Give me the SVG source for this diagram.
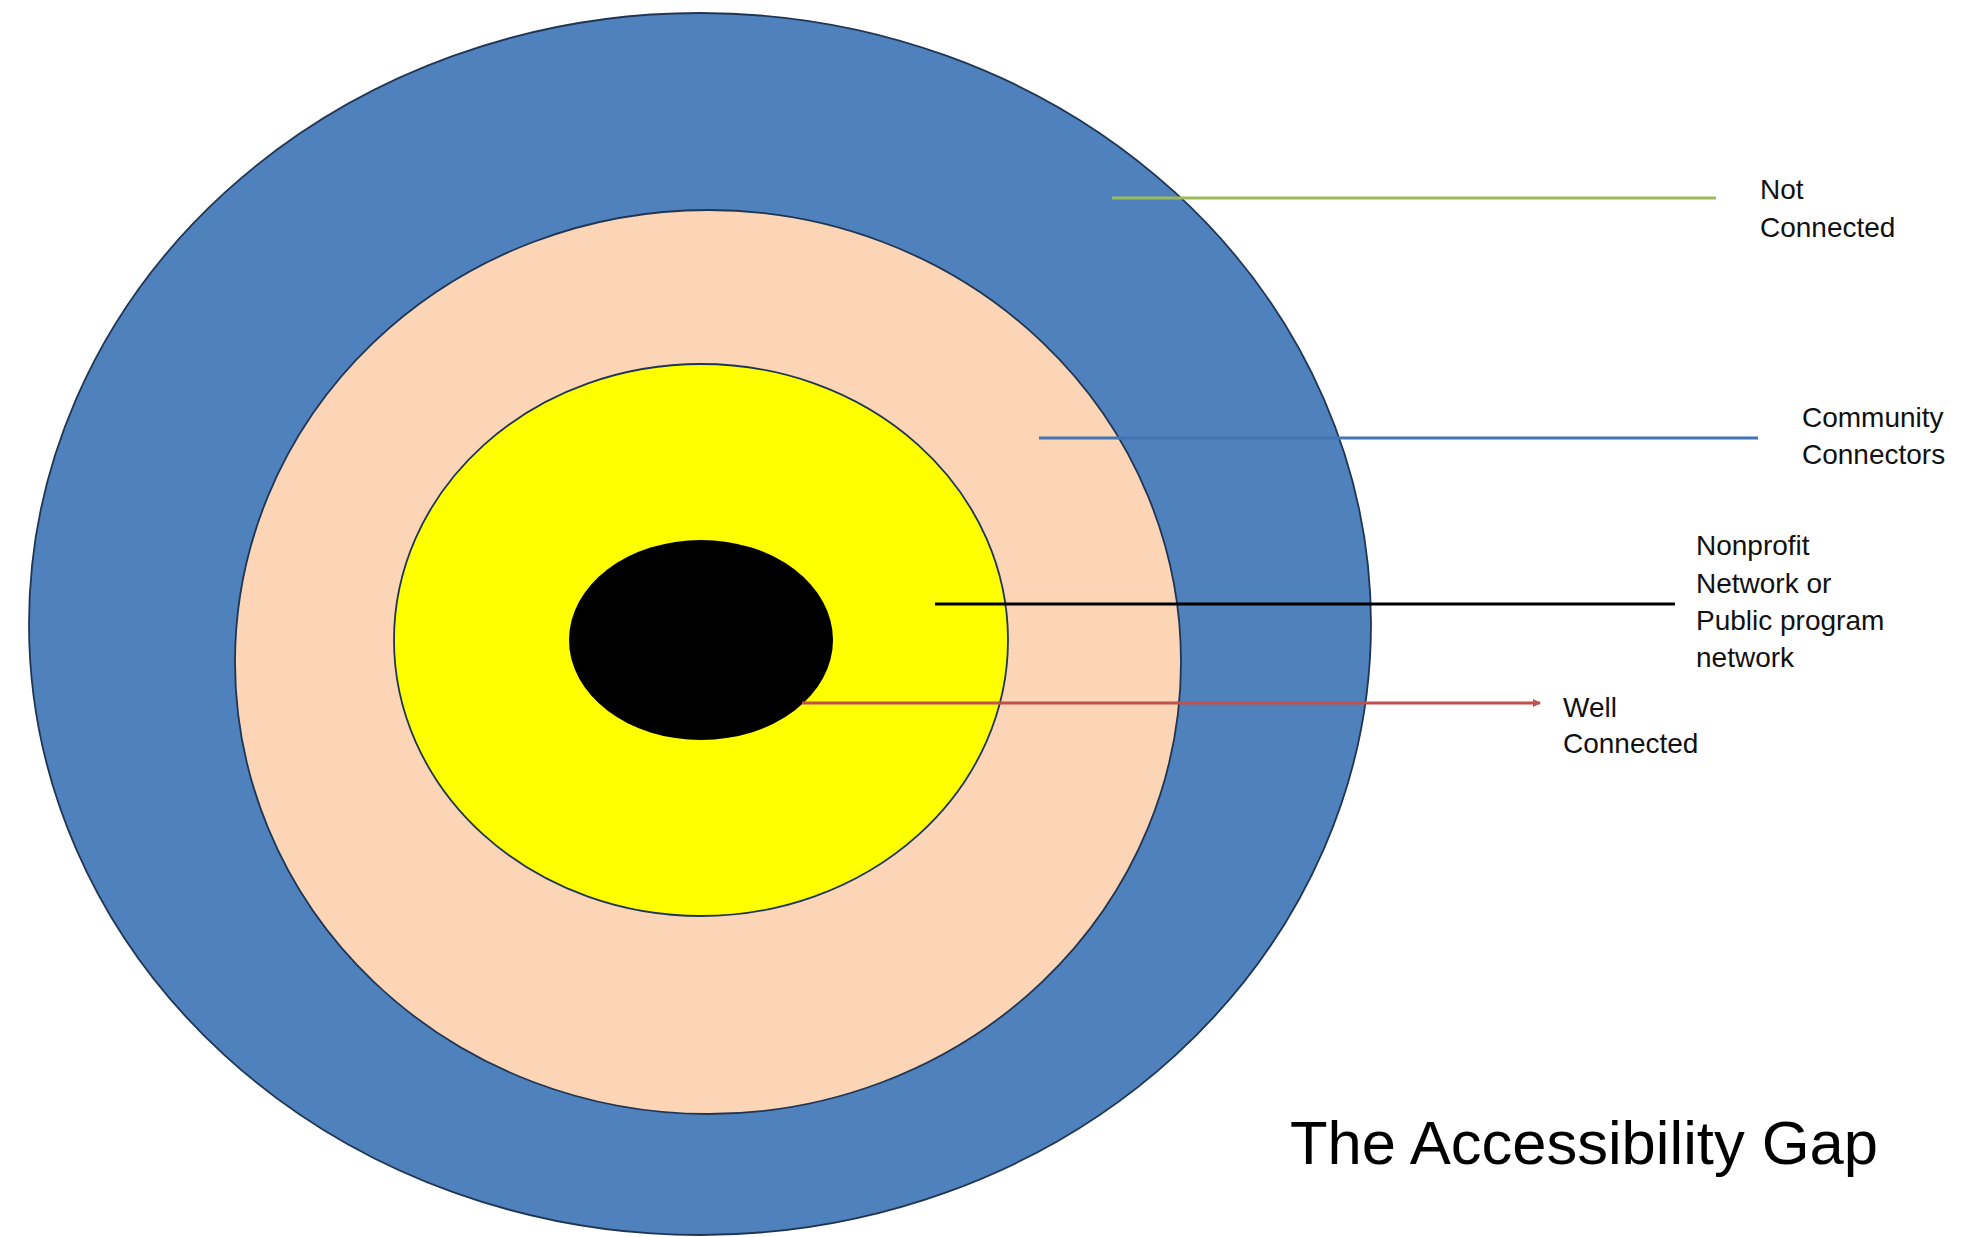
<svg xmlns="http://www.w3.org/2000/svg" width="1979" height="1237" viewBox="0 0 1979 1237">
<style>
.ring{stroke:#1f3553;stroke-width:1.8}
.lbl{font-family:"Liberation Sans",Arial,sans-serif;font-size:28px;fill:#111}
.ttl{font-family:"Liberation Sans",Arial,sans-serif;font-size:62px;fill:#000}
.ln{stroke-width:3;fill:none}
</style>
<defs>
<marker id="arr" markerWidth="8" markerHeight="8" refX="7" refY="4" orient="auto" markerUnits="userSpaceOnUse">
<path d="M0,0 L8,4 L0,8 Z" fill="#c0504d"/>
</marker>
</defs>
<rect width="1979" height="1237" fill="#fff"/>
<g id="ring-outer"><ellipse class="ring" cx="700" cy="624" rx="671" ry="611" fill="#4f81bd"/></g>
<g id="ring-peach"><ellipse class="ring" cx="708" cy="662" rx="473" ry="452" fill="#fbd5b5"/></g>
<g id="ring-yellow"><ellipse class="ring" cx="701" cy="640" rx="307" ry="276" fill="#ffff00"/></g>
<g id="core"><ellipse cx="701" cy="640" rx="132" ry="100" fill="#000"/></g>
<g id="connectors">
<line class="ln" x1="1112" y1="198" x2="1716" y2="198" stroke="#9bbb59"/>
<line class="ln" x1="1039" y1="438" x2="1758" y2="438" stroke="#4274b3"/>
<line class="ln" x1="935" y1="604" x2="1675" y2="604" stroke="#000"/>
<line class="ln" x1="802" y1="703" x2="1540" y2="703" stroke="#c0504d" marker-end="url(#arr)"/>
</g>
<g id="label-not-connected">
<text class="lbl" x="1760" y="199">Not</text>
<text class="lbl" x="1760" y="237">Connected</text>
</g>
<g id="label-community">
<text class="lbl" x="1802" y="427">Community</text>
<text class="lbl" x="1802" y="464">Connectors</text>
</g>
<g id="label-nonprofit">
<text class="lbl" x="1696" y="555">Nonprofit</text>
<text class="lbl" x="1696" y="593">Network or</text>
<text class="lbl" x="1696" y="630">Public program</text>
<text class="lbl" x="1696" y="667">network</text>
</g>
<g id="label-well">
<text class="lbl" x="1563" y="717">Well</text>
<text class="lbl" x="1563" y="753">Connected</text>
</g>
<g id="title">
<text class="ttl" x="1290" y="1164" textLength="588" lengthAdjust="spacingAndGlyphs">The Accessibility Gap</text>
</g>
</svg>
